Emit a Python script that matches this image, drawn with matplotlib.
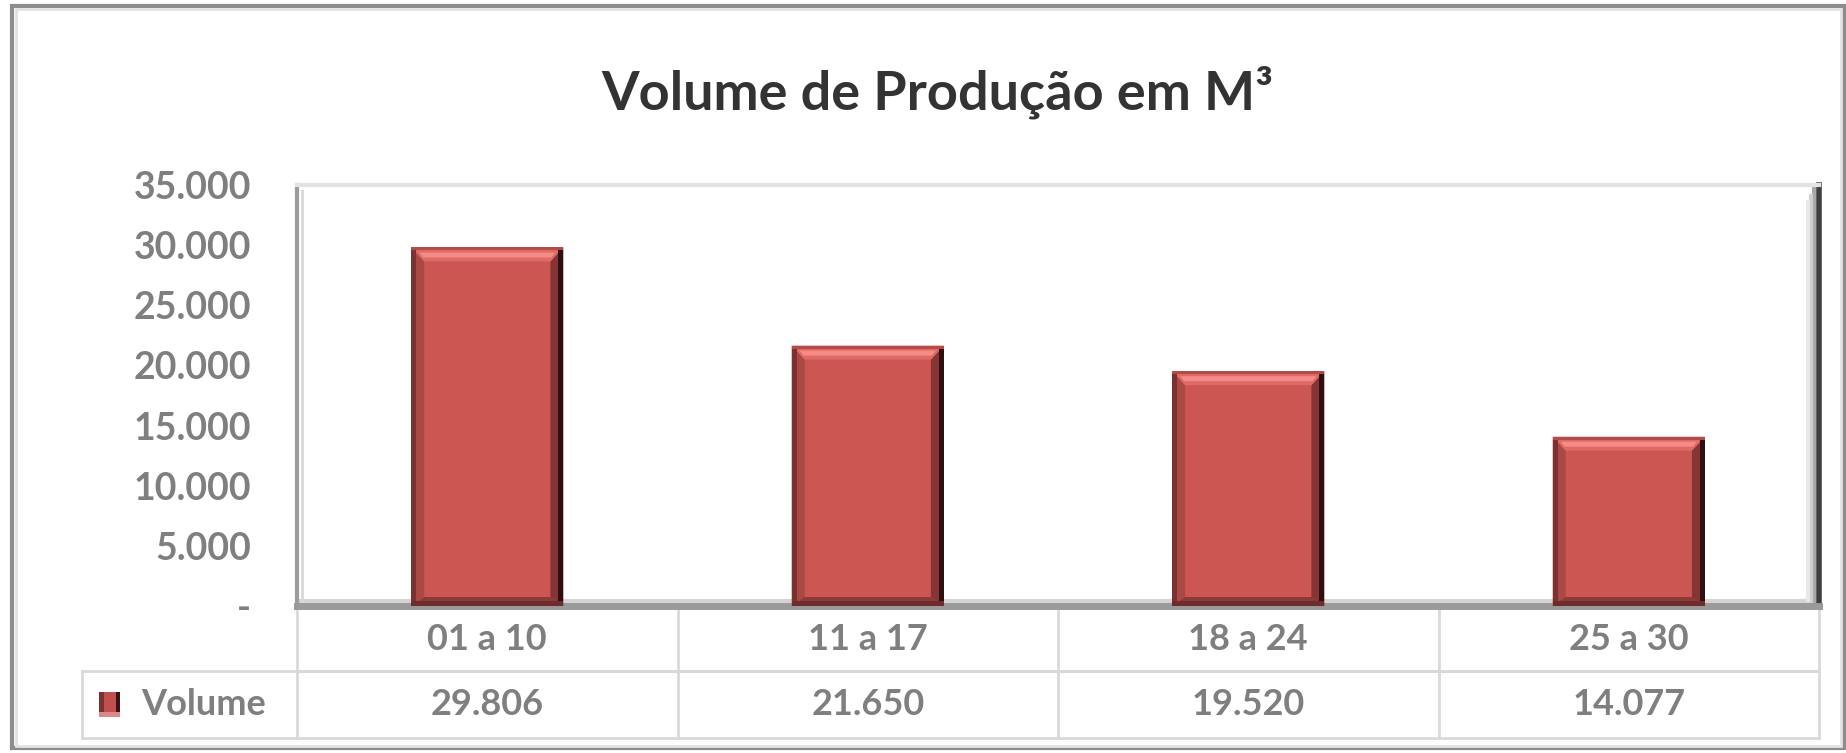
import matplotlib.pyplot as plt
from matplotlib.patches import Polygon, Rectangle
from matplotlib.lines import Line2D

categories = ["01 a 10", "11 a 17", "18 a 24", "25 a 30"]
volume = [29806, 21650, 19520, 14077]
series_name = "Volume"
title = "Volume de Produção em M³"
y_ticks = [0, 5000, 10000, 15000, 20000, 25000, 30000, 35000]


def fmt(v):
    return "-" if v == 0 else f"{v:,}".replace(",", ".")


plt.rcParams['font.family'] = ['Lato', 'DejaVu Sans']
GREY = '#7F7F7F'

fig = plt.figure(figsize=(18.46, 7.53), dpi=100)
ax = fig.add_axes([0.1609, 0.1952, 0.8245, 0.5591])
ax.set_xlim(-0.5, len(categories) - 0.5)
ax.set_ylim(0, 35000)

# pixel -> data sizes for the bevel
px_x = (len(categories)) / (0.8245 * 1846)
px_y = 35000 / (0.5591 * 753)

bar_w = 0.40
bars = ax.bar(range(len(categories)), volume, width=bar_w, color='#CC5652', zorder=3)


def quad(pts, color):
    ax.add_patch(Polygon(pts, closed=True, facecolor=color, edgecolor='none', zorder=4))


for b in bars:
    x0 = b.get_x()
    x1 = x0 + b.get_width()
    v = b.get_height()
    bl, br, bt, bb = 13 * px_x, 13 * px_x, 14 * px_y, 9 * px_y
    # bevel trapezoids
    quad([(x0, 0), (x0 + bl, bb), (x0 + bl, v - bt), (x0, v)], '#AA4846')
    quad([(x1, 0), (x1 - br, bb), (x1 - br, v - bt), (x1, v)], '#843534')
    quad([(x0, v), (x0 + bl, v - bt), (x1 - br, v - bt), (x1, v)], '#DE6A66')
    quad([(x0, 0), (x0 + bl, bb), (x1 - br, bb), (x1, 0)], '#8A3A38')
    # outer edges
    quad([(x0, 0), (x0 + 5 * px_x, 0), (x0 + 5 * px_x, v), (x0, v)], '#7A3130')
    quad([(x1 - 5 * px_x, 0), (x1, 0), (x1, v), (x1 - 5 * px_x, v)], '#2E1010')
    quad([(x0, v - 3 * px_y), (x1, v - 3 * px_y), (x1, v), (x0, v)], '#B54B48')
    quad([(x0, 0), (x1, 0), (x1, 5 * px_y), (x0, 5 * px_y)], '#6E2D2C')
    # top highlight
    quad([(x0 + 8 * px_x, v - 5 * px_y), (x1 - 8 * px_x, v - 5 * px_y),
          (x1 - 12 * px_x, v - 10 * px_y), (x0 + 12 * px_x, v - 10 * px_y)], '#F58B87')

# frame of the plot area
ax.spines['left'].set_color('#9C9C9C')
ax.spines['left'].set_linewidth(3)
ax.spines['top'].set_color('#E3E3E3')
ax.spines['top'].set_linewidth(3)
ax.spines['right'].set_color('#3F3F3F')
ax.spines['right'].set_linewidth(4)
ax.spines['bottom'].set_color('#9A9A9A')
ax.spines['bottom'].set_linewidth(5)
ax.add_line(Line2D([0, 0.997], [0.012, 0.012], transform=ax.transAxes, color='#D4D4D4', lw=3, zorder=2))
ax.add_line(Line2D([0.997, 0.997], [0.01, 0.99], transform=ax.transAxes, color='#A8A8A8', lw=3, zorder=2))
ax.add_line(Line2D([0.995, 0.995], [0.012, 0.975], transform=ax.transAxes, color='#CFCFCF', lw=3, zorder=2))
ax.add_line(Line2D([0.993, 0.993], [0.014, 0.96], transform=ax.transAxes, color='#E8E8E8', lw=3, zorder=2))
ax.add_line(Line2D([0.003, 0.003], [0.012, 0.985], transform=ax.transAxes, color='#D8D8D8', lw=2, zorder=2))

ax.set_yticks(y_ticks)
ax.set_yticklabels([fmt(t) for t in y_ticks])
ax.tick_params(axis='y', length=0, pad=33, labelsize=27, labelcolor=GREY)
for lab in ax.get_yticklabels():
    lab.set_fontweight('bold')
ax.set_xticks([])

# data table below the plot
xt = ax.get_xaxis_transform()
r0, r1, r2 = -0.007, -0.154, -0.314
leg_x = -0.141
tc = '#D9D9D9'
for xb in [i - 0.5 for i in range(len(categories) + 1)]:
    ax.plot([xb, xb], [r0, r2], transform=xt, color=tc, lw=2, clip_on=False)
ax.plot([-0.5, len(categories) - 0.5], [r1, r1], transform=xt, color=tc, lw=2, clip_on=False)
ax.plot([leg_x, 1], [r1, r1], transform=ax.transAxes, color=tc, lw=2, clip_on=False)
ax.plot([leg_x, 1], [r2, r2], transform=ax.transAxes, color=tc, lw=2, clip_on=False)
ax.plot([leg_x, leg_x], [r1, r2], transform=ax.transAxes, color=tc, lw=2, clip_on=False)

for i, (c, v) in enumerate(zip(categories, volume)):
    ax.text(i, (r0 + r1) / 2, c, transform=xt, ha='center', va='center',
            fontsize=26, fontweight='bold', color=GREY)
    ax.text(i, (r1 + r2) / 2, fmt(v), transform=xt, ha='center', va='center',
            fontsize=26, fontweight='bold', color=GREY)

# legend key
ky = (r1 + r2) / 2
kw, kh = 21 / 1522, 25 / 421
kx = -0.13
ax.add_patch(Rectangle((kx, ky - kh / 2), kw, kh, transform=ax.transAxes,
                       facecolor='#C0504D', edgecolor='none', clip_on=False))
ax.add_patch(Rectangle((kx, ky - kh / 2), kw * 0.22, kh, transform=ax.transAxes,
                       facecolor='#7A3130', edgecolor='none', clip_on=False))
ax.add_patch(Rectangle((kx + kw * 0.78, ky - kh / 2), kw * 0.22, kh, transform=ax.transAxes,
                       facecolor='#3A1414', edgecolor='none', clip_on=False))
ax.add_patch(Rectangle((kx, ky - kh / 2), kw, kh * 0.2, transform=ax.transAxes,
                       facecolor='#D98A88', edgecolor='none', clip_on=False))
ax.text(-0.1025, ky, series_name, transform=ax.transAxes, ha='left', va='center',
        fontsize=26, fontweight='bold', color=GREY)

fig.text(0.508, 0.878, title, ha='center', va='center', fontsize=39,
         fontweight='bold', color='#333333')

# outer chart border
fig.patches.append(Rectangle((0.0065, 0.0066), 0.9924, 0.9854, transform=fig.transFigure,
                             fill=False, edgecolor='#8C8C8C', lw=3))
fig.patches.append(Rectangle((0.0085, 0.0095), 0.989, 0.979, transform=fig.transFigure,
                             fill=False, edgecolor='#E2E2E2', lw=2))

fig.savefig("out.png", dpi=100)
